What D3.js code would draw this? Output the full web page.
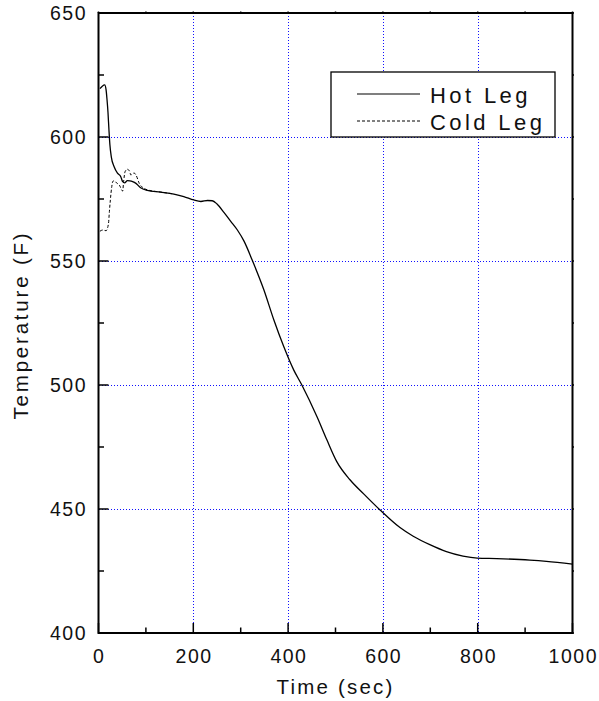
<html>
  <head>
    <script src="https://cdn.jsdelivr.net/npm/d3@7"></script>
    <style>
      body, html {
        margin:0;
        padding:0;
        background:white;
        font-family:"Liberation Sans", Arial, sans-serif;
      }
      .grid {
        stroke:#1010ff;
        stroke-width:1;
        stroke-dasharray:1,2;
      }
      .frame {
        fill:none;
        stroke:black;
        stroke-width:2;
      }
      .tick {
        stroke:black;
        stroke-width:1.5;
      }
      .ticklabel {
        font-size:19.5px;
        letter-spacing:1.5px;
        fill:#111;
      }
      .title {
        font-size:20.5px;
        letter-spacing:2.2px;
        fill:#111;
      }
      .legendtext {
        font-size:22px;
        letter-spacing:3.4px;
        fill:#111;
      }
    </style>
  </head>
  <body>
    <svg id="chart" width="599" height="701"></svg>
  </body>

  <script type="text/javascript">
  // hot leg temperature
  var hotTime = [3, 8, 13, 16, 18, 20, 22, 24, 27, 33, 40, 47, 51, 55, 61, 66, 72, 79, 89, 103,
                 131, 159, 180, 201, 216, 230, 240, 250, 265, 279, 293, 307, 324, 349, 370, 391,
                 412, 429, 461, 482, 503, 531, 560, 594, 636, 664, 699, 734, 769, 799, 840, 910, 945, 1000]
  var hotTemp = [619.5, 620.5, 621, 619, 615, 610, 603, 597, 592, 588, 585.4, 584, 582, 581.5, 582.4, 582.3, 582, 581.3, 579.5, 578.5,
                 577.8, 577, 576, 574.6, 574, 574.4, 574.3, 573, 569.5, 566, 562.5, 558, 550.5, 538.3, 526.2, 515.4,
                 506, 500, 487.2, 477.8, 469, 461.7, 456, 449.6, 442.5, 439, 435.6, 432.8, 431, 430.2, 430, 429.4, 428.9, 427.8]

  // cold leg temperature (merges with hot leg after ~110 s)
  var coldTime = [3, 9, 16, 21, 23, 25, 28, 30, 33, 38, 44, 51, 53, 56, 61, 66, 68, 75, 79, 86, 96, 105, 131, 159]
  var coldTemp = [562, 562.5, 562.2, 565, 570, 574.6, 580, 582, 582.4, 581.5, 580.6, 578.2, 582, 586, 587, 586, 584.7, 585.5, 584.7, 581.3, 579.3, 578.6, 577.8, 577]

  var xTicks = [0, 200, 400, 600, 800, 1000]
  var yTicks = [400, 450, 500, 550, 600, 650]
  var xMinor = [100, 300, 500, 700, 900]
  var yMinor = [425, 475, 525, 575, 625]
  var legendNames = ["Hot Leg", "Cold Leg"]

  var pLeft = 98.5, pRight = 572.5, pTop = 13, pBottom = 633

  var svg = d3.select("#chart")
  var x = d3.scaleLinear().domain([0, 1000]).range([pLeft, pRight])
  var y = d3.scaleLinear().domain([400, 650]).range([pBottom, pTop])

  var zip = function(ts, vs){ return ts.map(function(t, i){ return [t, vs[i]] }) }

  // grid (snapped to pixels so the dots stay sharp)
  svg.selectAll('line.gx')
     .data(xTicks.slice(1, -1))
     .enter().append('line')
     .attr('class', 'grid')
     .attr('x1', function(d){return Math.round(x(d)) + 0.5}).attr('x2', function(d){return Math.round(x(d)) + 0.5})
     .attr('y1', pTop).attr('y2', pBottom)
  svg.selectAll('line.gy')
     .data(yTicks.slice(1, -1))
     .enter().append('line')
     .attr('class', 'grid')
     .attr('y1', function(d){return Math.round(y(d)) + 0.5}).attr('y2', function(d){return Math.round(y(d)) + 0.5})
     .attr('x1', 99).attr('x2', 572)

  // ticks, inward on bottom and left, tiny outward on top and right
  var tickData = xTicks.map(function(d){return {v:d, len:10}}).concat(xMinor.map(function(d){return {v:d, len:5.5}}))
  svg.selectAll('line.tx')
     .data(tickData)
     .enter().append('line')
     .attr('class', 'tick')
     .attr('x1', function(d){return x(d.v)}).attr('x2', function(d){return x(d.v)})
     .attr('y1', pBottom).attr('y2', function(d){return pBottom - d.len})
  svg.selectAll('line.ttop')
     .data(tickData)
     .enter().append('line')
     .attr('class', 'tick')
     .attr('x1', function(d){return x(d.v)}).attr('x2', function(d){return x(d.v)})
     .attr('y1', pTop).attr('y2', pTop - 1.5)
  var yTickData = yTicks.map(function(d){return {v:d, len:10}}).concat(yMinor.map(function(d){return {v:d, len:5.5}}))
  svg.selectAll('line.ty')
     .data(yTickData)
     .enter().append('line')
     .attr('class', 'tick')
     .attr('y1', function(d){return y(d.v)}).attr('y2', function(d){return y(d.v)})
     .attr('x1', pLeft).attr('x2', function(d){return pLeft + d.len})
  svg.selectAll('line.tright')
     .data(yTickData)
     .enter().append('line')
     .attr('class', 'tick')
     .attr('y1', function(d){return y(d.v)}).attr('y2', function(d){return y(d.v)})
     .attr('x1', pRight).attr('x2', pRight + 1.5)

  svg.append('rect')
     .attr('class', 'frame')
     .attr('x', pLeft).attr('y', pTop)
     .attr('width', pRight - pLeft).attr('height', pBottom - pTop)

  // tick labels
  svg.selectAll('text.xl')
     .data(xTicks)
     .enter().append('text')
     .attr('class', 'ticklabel')
     .attr('x', function(d){return x(d) + 0.8})
     .attr('y', 662.5)
     .attr('text-anchor', 'middle')
     .text(function(d){return d})
  svg.selectAll('text.yl')
     .data(yTicks)
     .enter().append('text')
     .attr('class', 'ticklabel')
     .attr('x', 87)
     .attr('y', function(d){return y(d) + 7})
     .attr('text-anchor', 'end')
     .text(function(d){return d})

  svg.append('text')
     .attr('class', 'title')
     .attr('x', (pLeft + pRight) / 2)
     .attr('y', 693.5)
     .attr('text-anchor', 'middle')
     .text('Time (sec)')
  svg.append('text')
     .attr('class', 'title')
     .attr('transform', 'translate(28,' + ((pTop + pBottom) / 2 + 2) + ') rotate(-90)')
     .attr('text-anchor', 'middle')
     .style('letter-spacing', '2.8px')
     .text('Temperature (F)')

  // series
  var line = d3.line()
     .curve(d3.curveMonotoneX)
     .x(function(d){return x(d[0])})
     .y(function(d){return y(d[1])})

  svg.append('path')
     .datum(zip(coldTime, coldTemp))
     .attr('d', line)
     .style('fill', 'none')
     .style('stroke', 'black')
     .style('stroke-width', 1)
     .style('stroke-dasharray', '3,2')
  svg.append('path')
     .datum(zip(hotTime, hotTemp))
     .attr('d', line)
     .style('fill', 'none')
     .style('stroke', 'black')
     .style('stroke-width', 1.3)

  // legend
  var lg = svg.append('g').attr('transform', 'translate(331,72)')
  lg.append('rect')
     .attr('width', 224).attr('height', 65)
     .style('fill', 'white').style('stroke', 'black').style('stroke-width', 1.3)
  var items = lg.selectAll('g.item')
     .data(legendNames)
     .enter().append('g')
     .attr('transform', function(d, i){return 'translate(0,' + (22 + i * 27) + ')'})
  items.append('line')
     .attr('x1', 26).attr('x2', 89)
     .style('stroke', 'black')
     .style('stroke-width', function(d, i){return i == 0 ? 1.2 : 1})
     .style('stroke-dasharray', function(d, i){return i == 0 ? null : '3,2'})
  items.append('text')
     .attr('class', 'legendtext')
     .attr('x', 99)
     .attr('y', 9)
     .text(function(d){return d})
  </script>
</html>
